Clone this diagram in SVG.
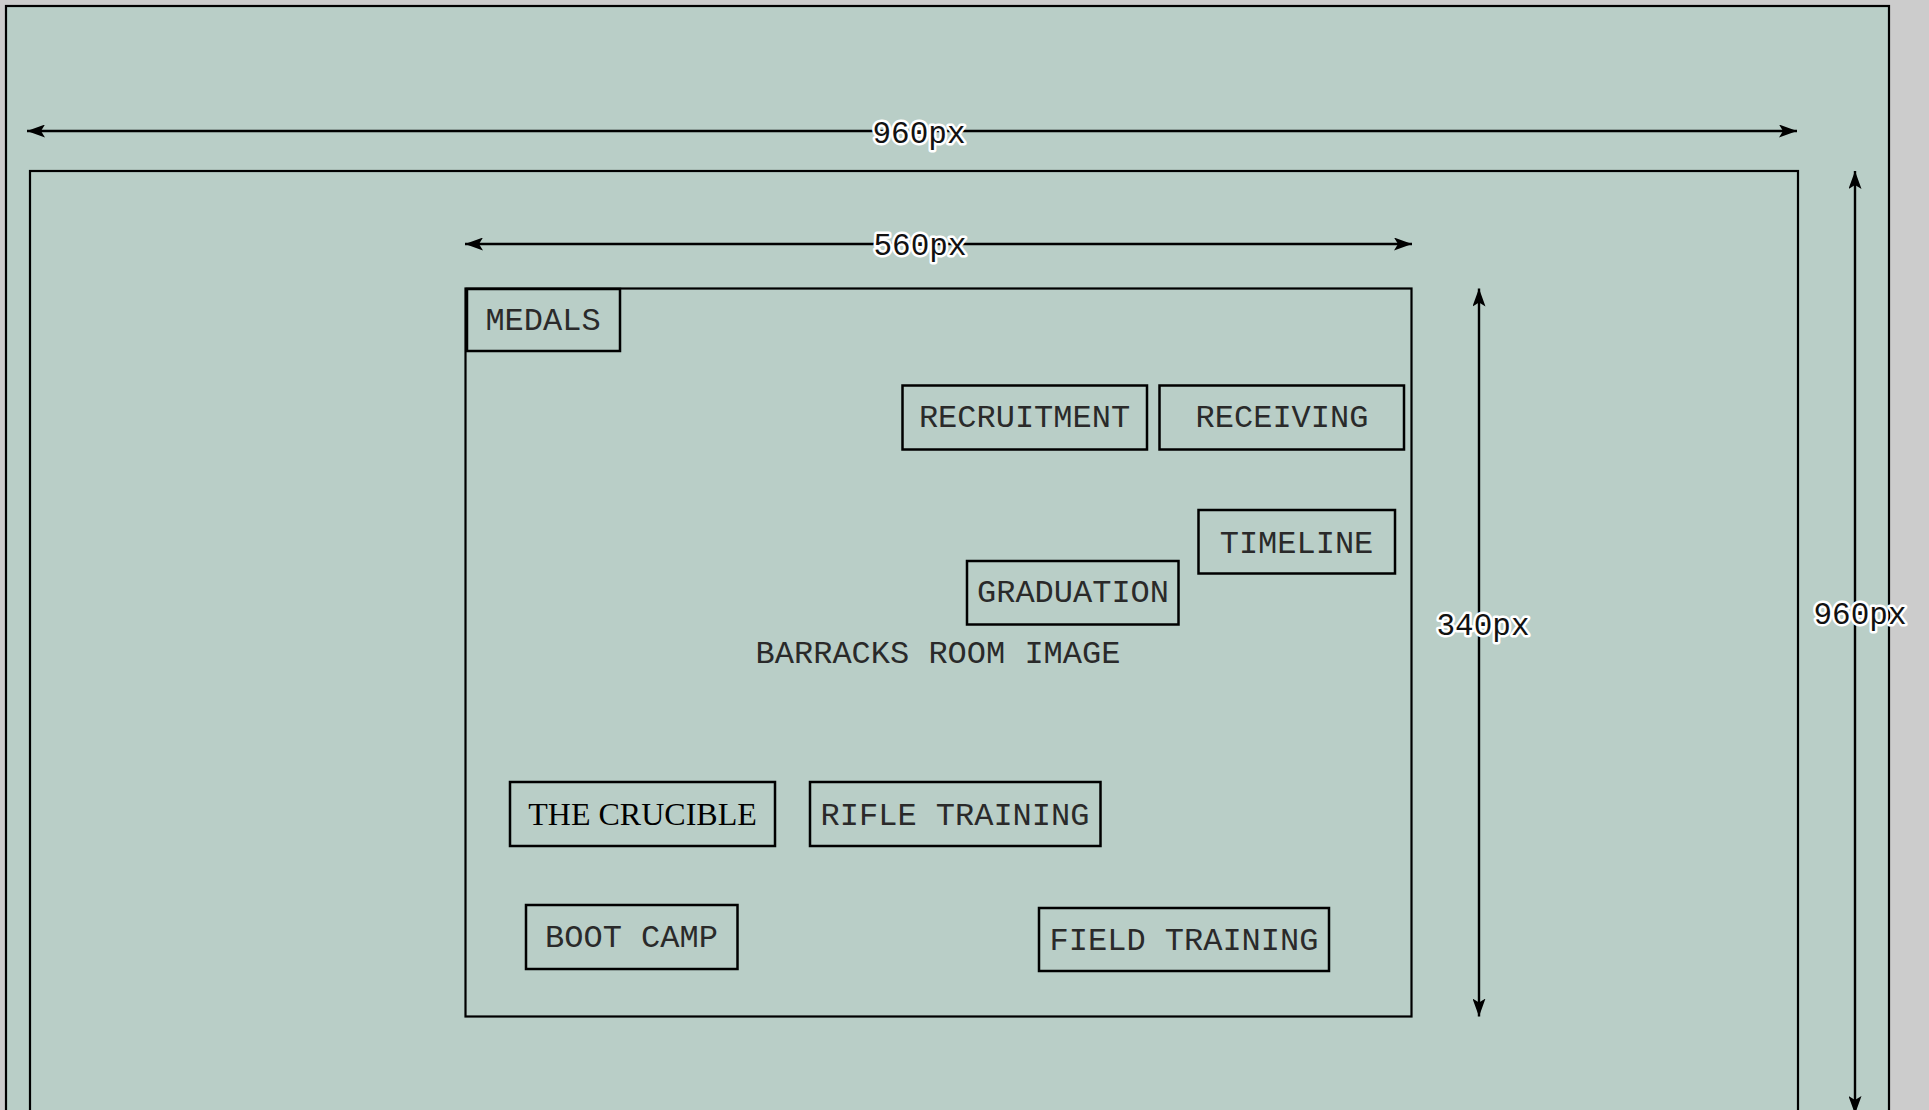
<svg xmlns="http://www.w3.org/2000/svg" width="1929" height="1110" viewBox="0 0 1929 1110">
<style>
.frame{fill:#b9cec7;stroke:#000;stroke-width:2.2}
.box{fill:none;stroke:#000;stroke-width:2.5}
.dim{fill:none;stroke:#000;stroke-width:2.4}
.lbl{font-family:"Courier New","Nimbus Mono PS","FreeMono","Liberation Mono",monospace;font-size:32px;fill:#2a2a2a;text-anchor:middle}
.serif{font-family:"Liberation Serif","Times New Roman",serif;font-size:32px;fill:#000;text-anchor:middle}
.dimlbl{font-family:"Courier New","Nimbus Mono PS","FreeMono","Liberation Mono",monospace;font-size:31px;fill:#111;stroke:#fff;stroke-width:5;stroke-linejoin:round;paint-order:stroke;text-anchor:middle}
</style>
<defs>
<marker id="ah" viewBox="0 0 18 13" refX="18" refY="6.5" markerWidth="18" markerHeight="13" markerUnits="userSpaceOnUse" orient="auto-start-reverse">
<path d="M0,0 L18,6.5 L0,13 L4,6.5 Z" fill="#000"/>
</marker>
</defs>
<rect width="1929" height="1110" fill="#cccccc"/>
<g id="outer-frame"><rect class="frame" x="6" y="6" width="1883" height="1200"/></g>
<g id="page-frame"><rect class="frame" x="30" y="171" width="1768" height="1100"/></g>
<g id="image-area"><rect class="frame" x="465.5" y="288.5" width="946" height="728"/>
<text class="lbl" x="938" y="663">BARRACKS ROOM IMAGE</text></g>
<g id="connectors">
<line class="dim" x1="27" y1="131" x2="1797" y2="131" marker-start="url(#ah)" marker-end="url(#ah)"/>
<line class="dim" x1="465" y1="244" x2="1412" y2="244" marker-start="url(#ah)" marker-end="url(#ah)"/>
<line class="dim" x1="1479" y1="288.5" x2="1479" y2="1016.5" marker-start="url(#ah)" marker-end="url(#ah)"/>
<line class="dim" x1="1855" y1="171" x2="1855" y2="1114" marker-start="url(#ah)" marker-end="url(#ah)"/>
</g>
<g id="dim-960-h"><text class="dimlbl" x="919" y="143">960px</text></g>
<g id="dim-560"><text class="dimlbl" x="920" y="255">560px</text></g>
<g id="dim-340"><text class="dimlbl" x="1483" y="635">340px</text></g>
<g id="dim-960-v"><text class="dimlbl" x="1860" y="624">960px</text></g>
<g id="medals"><rect class="box" x="467" y="289" width="153" height="62"/><text class="lbl" x="543" y="330">MEDALS</text></g>
<g id="recruitment"><rect class="box" x="902.5" y="385.5" width="244.5" height="64"/><text class="lbl" x="1024.5" y="427">RECRUITMENT</text></g>
<g id="receiving"><rect class="box" x="1159.5" y="385.5" width="244.5" height="64"/><text class="lbl" x="1282" y="427">RECEIVING</text></g>
<g id="timeline"><rect class="box" x="1198.5" y="510" width="196.5" height="63.5"/><text class="lbl" x="1296.5" y="552.5">TIMELINE</text></g>
<g id="graduation"><rect class="box" x="967" y="561" width="211.5" height="63.5"/><text class="lbl" x="1073" y="602">GRADUATION</text></g>
<g id="the-crucible"><rect class="box" x="510" y="782" width="265" height="64"/><text class="serif" x="642.5" y="825">THE CRUCIBLE</text></g>
<g id="rifle-training"><rect class="box" x="810" y="782" width="290.5" height="64"/><text class="lbl" x="955" y="825">RIFLE TRAINING</text></g>
<g id="boot-camp"><rect class="box" x="526" y="905" width="211.5" height="64"/><text class="lbl" x="631.5" y="947">BOOT CAMP</text></g>
<g id="field-training"><rect class="box" x="1039" y="908" width="290" height="63"/><text class="lbl" x="1184" y="949.5">FIELD TRAINING</text></g>
</svg>
